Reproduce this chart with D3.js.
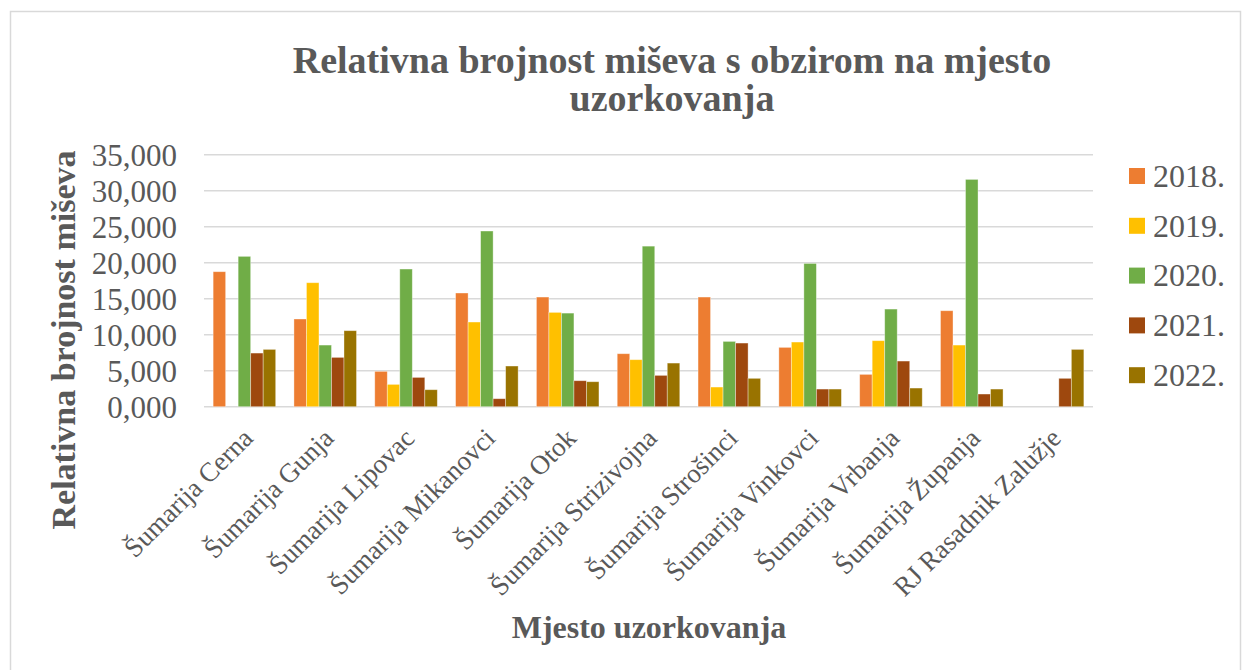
<!DOCTYPE html>
<html>
<head>
<meta charset="utf-8">
<script src="https://cdn.jsdelivr.net/npm/d3@7"></script>
<style>
  body { margin: 0; background: #fff; }
  svg text { font-family: "Liberation Serif", "Times New Roman", serif; fill: #595959; }
</style>
</head>
<body>
<div id="chart"></div>
<script>
// sampling locations
const categories = ["Šumarija Cerna", "Šumarija Gunja", "Šumarija Lipovac", "Šumarija Mikanovci",
    "Šumarija Otok", "Šumarija Strizivojna", "Šumarija Strošinci", "Šumarija Vinkovci",
    "Šumarija Vrbanja", "Šumarija Županja", "RJ Rasadnik Zalužje"];
const years = ["2018.", "2019.", "2020.", "2021.", "2022."];
const colors = ["#ED7D31", "#FFC000", "#70AD47", "#9E480E", "#997300"];

const v2018 = [18.75, 12.18, 4.91, 15.79, 15.23, 7.36, 15.23, 8.24, 4.49, 13.33, 0];
const v2019 = [0, 17.22, 3.10, 11.76, 13.10, 6.53, 2.73, 8.98, 9.17, 8.56, 0];
const v2020 = [20.88, 8.56, 19.12, 24.40, 13.00, 22.30, 9.07, 19.90, 13.56, 31.57, 0];
const v2021 = [7.45, 6.85, 4.07, 1.11, 3.61, 4.35, 8.84, 2.45, 6.34, 1.76, 3.94];
const v2022 = [7.96, 10.56, 2.36, 5.65, 3.47, 6.06, 3.94, 2.45, 2.59, 2.45, 7.96];
const yTicks = [0, 5, 10, 15, 20, 25, 30, 35];

const series = [v2018, v2019, v2020, v2021, v2022];

const width = 1248, height = 670;
const margin = {top: 154.7, right: 155, bottom: 263.3, left: 204};

const svg = d3.select("#chart").append("svg")
    .attr("width", width)
    .attr("height", height);

// outer frame
svg.append("rect")
    .attr("x", 10.5).attr("y", 11.5)
    .attr("width", 1230).attr("height", 680)
    .attr("fill", "none")
    .attr("stroke", "#D9D9D9")
    .attr("stroke-width", 1.5);

const x0 = d3.scaleBand()
    .domain(categories)
    .range([margin.left, width - margin.right])
    .paddingInner(0.226)
    .paddingOuter(0.113);

const x1 = d3.scaleBand()
    .domain(years)
    .range([0, x0.bandwidth()]);

const y = d3.scaleLinear()
    .domain([0, 35])
    .range([height - margin.bottom, margin.top]);

const locale = d3.formatLocale({decimal: ",", thousands: ".", grouping: [3], currency: ["", ""]});
const fmt = locale.format(".3f");

// gridlines
svg.append("g")
    .selectAll("line")
    .data(yTicks)
    .join("line")
    .attr("x1", margin.left)
    .attr("x2", width - margin.right)
    .attr("y1", d => y(d))
    .attr("y2", d => y(d))
    .attr("stroke", "#D9D9D9")
    .attr("stroke-width", 1.5);

// y tick labels
const yAxis = svg.append("g")
    .attr("transform", `translate(${margin.left - 27},0)`)
    .call(d3.axisLeft(y).tickValues(yTicks).tickFormat(fmt).tickSize(0).tickPadding(0));
yAxis.select(".domain").remove();
yAxis.selectAll("text")
    .style("font-family", '"Liberation Serif", "Times New Roman", serif')
    .style("font-size", "31px")
    .attr("fill", "#595959")
    .attr("dy", "0.34em");

// bars
const rows = categories.map((c, i) => ({cat: c, vals: series.map((s, k) => ({year: years[k], k: k, v: s[i]}))}));

svg.append("g")
    .selectAll("g")
    .data(rows)
    .join("g")
    .attr("transform", d => `translate(${x0(d.cat)},0)`)
    .selectAll("rect")
    .data(d => d.vals.filter(e => e.v > 0))
    .join("rect")
    .attr("x", d => x1(d.year))
    .attr("y", d => y(d.v))
    .attr("width", x1.bandwidth())
    .attr("height", d => y(0) - y(d.v))
    .attr("fill", d => colors[d.k])
    .attr("stroke", "#fff")
    .attr("stroke-opacity", 0.45)
    .attr("stroke-width", 0.8);

// x labels
svg.append("g")
    .selectAll("text")
    .data(categories)
    .join("text")
    .attr("transform", d => `translate(${x0(d) + x0.bandwidth() / 2 + 10},${y(0) + 33}) rotate(-45)`)
    .attr("text-anchor", "end")
    .style("font-size", "27px")
    .text(d => d);

// title
const title = svg.append("text")
    .attr("text-anchor", "middle")
    .style("font-size", "38px")
    .style("font-weight", "bold");
title.append("tspan").attr("x", 672).attr("y", 73).text("Relativna brojnost miševa s obzirom na mjesto");
title.append("tspan").attr("x", 672).attr("y", 111).text("uzorkovanja");

// axis titles
svg.append("text")
    .attr("transform", `translate(75,340) rotate(-90)`)
    .attr("text-anchor", "middle")
    .style("font-size", "34px")
    .style("font-weight", "bold")
    .text("Relativna brojnost miševa");

svg.append("text")
    .attr("x", 649)
    .attr("y", 638)
    .attr("text-anchor", "middle")
    .style("font-size", "32px")
    .style("font-weight", "bold")
    .text("Mjesto uzorkovanja");

// legend
const legend = svg.append("g")
    .selectAll("g")
    .data(years)
    .join("g")
    .attr("transform", (d, i) => `translate(1129,${176 + i * 49.8})`);
legend.append("rect")
    .attr("x", 0).attr("y", -8)
    .attr("width", 16).attr("height", 16)
    .attr("fill", (d, i) => colors[i]);
legend.append("text")
    .attr("x", 24)
    .attr("dy", "0.34em")
    .style("font-size", "32px")
    .text(d => d);
</script>
</body>
</html>
